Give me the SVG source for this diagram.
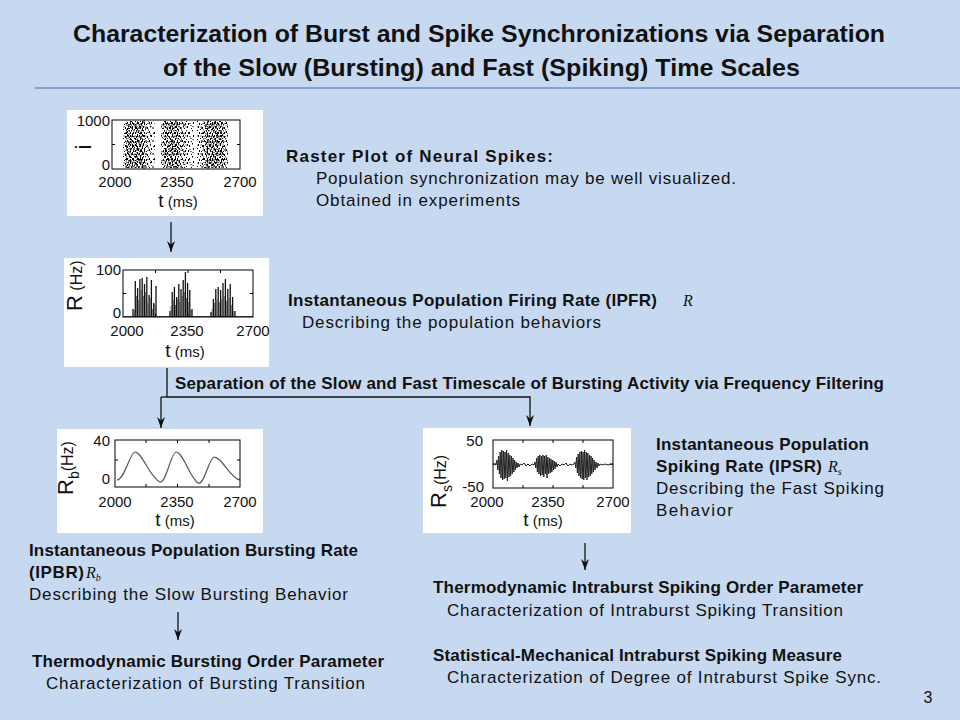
<svg xmlns="http://www.w3.org/2000/svg" width="960" height="720" viewBox="0 0 960 720">
<defs>
<style>
.t{font-family:"Liberation Sans",Arial,sans-serif;fill:#111;}
.b{font-weight:bold;font-size:17px;}
.r{font-size:17px;}
.m{font-family:"Liberation Serif","Times New Roman",serif;font-style:italic;font-size:16px;fill:#111;}
.box{fill:#fff;}
.frame{fill:none;stroke:#000;stroke-width:1;}
.tick{stroke:#000;stroke-width:1;}
.ax{font-family:"Liberation Sans",Arial,sans-serif;font-size:15px;fill:#111;}
.conn{fill:none;stroke:#111;stroke-width:1.3;}
.sp{fill:none;stroke:#111;stroke-width:1.3;}
.sg{fill:none;stroke:#777;stroke-width:1;}
</style>
<marker id="ah" viewBox="0 0 11 8" refX="11" refY="4" markerWidth="11" markerHeight="8" markerUnits="userSpaceOnUse" orient="auto">
<path d="M0,0 L11,4 L0,8 L3.5,4 z" fill="#111"/>
</marker>
<pattern id="rA" width="11" height="9" patternUnits="userSpaceOnUse">
<g fill="#000">
<rect x="0" y="0" width="1" height="2"/><rect x="2" y="3" width="1" height="1"/><rect x="4" y="1" width="1" height="2"/>
<rect x="6" y="5" width="1" height="2"/><rect x="8" y="2" width="1" height="1"/><rect x="9" y="6" width="1" height="2"/>
<rect x="1" y="6" width="1" height="2"/><rect x="3" y="7" width="1" height="1"/><rect x="5" y="3.5" width="1" height="1"/>
<rect x="7" y="0" width="1" height="1.5"/><rect x="10" y="4" width="1" height="1"/><rect x="2.5" y="0.5" width="1" height="1"/>
<rect x="7.5" y="7" width="1" height="1.5"/><rect x="4.5" y="6" width="1" height="1"/><rect x="9.5" y="0.5" width="1" height="1"/>
</g>
</pattern>
<pattern id="rB" width="7" height="13" patternUnits="userSpaceOnUse">
<g fill="#000">
<rect x="0" y="2" width="1" height="2"/><rect x="1.5" y="8" width="1" height="1"/><rect x="3" y="0" width="1" height="1.5"/>
<rect x="4" y="5" width="1" height="2"/><rect x="5.5" y="10" width="1" height="2"/><rect x="2" y="11" width="1" height="1"/>
<rect x="6" y="3" width="1" height="1"/><rect x="0.5" y="6" width="1" height="1"/><rect x="3.5" y="9" width="1" height="1"/>
</g>
</pattern>
<pattern id="rC" width="5" height="6" patternUnits="userSpaceOnUse">
<g fill="#000">
<rect x="0" y="0" width="1" height="2"/><rect x="2" y="2" width="1" height="2"/><rect x="3.5" y="4" width="1" height="1.5"/><rect x="1" y="4.5" width="1" height="1"/>
</g>
</pattern>
</defs>
<rect x="0" y="0" width="960" height="720" fill="#C6D9F1"/>

<g id="title">
<text class="t" x="73" y="42" font-size="24" font-weight="bold" textLength="812" lengthAdjust="spacingAndGlyphs">Characterization of Burst and Spike Synchronizations via Separation</text>
<text class="t" x="163" y="76" font-size="24" font-weight="bold" textLength="637" lengthAdjust="spacingAndGlyphs">of the Slow (Bursting) and Fast (Spiking) Time Scales</text>
<line x1="35" y1="88" x2="960" y2="88" stroke="#6F8FC6" stroke-width="1.5"/>
</g>

<g id="raster-plot">
<rect class="box" x="67" y="110" width="196" height="106"/>
<rect x="123" y="121" width="28" height="47" fill="url(#rA)"/>
<rect x="125" y="121" width="22" height="47" fill="url(#rB)"/>
<rect x="126" y="121" width="17" height="47" fill="url(#rC)"/>
<rect x="151" y="121" width="4" height="47" fill="url(#rB)"/>
<rect x="161" y="121" width="28" height="47" fill="url(#rA)"/>
<rect x="163" y="121" width="22" height="47" fill="url(#rB)"/>
<rect x="164" y="121" width="15" height="47" fill="url(#rC)"/>
<rect x="189" y="121" width="5" height="47" fill="url(#rB)"/>
<rect x="197" y="121" width="31" height="47" fill="url(#rA)"/>
<rect x="201" y="121" width="25" height="47" fill="url(#rB)"/>
<rect x="206" y="121" width="18" height="47" fill="url(#rC)"/>
<rect class="frame" x="112" y="120" width="128" height="49"/>
<path class="tick" d="M144,120 v3 M176,120 v3 M208,120 v3 M144,169 v-3 M176,169 v-3 M208,169 v-3 M112,144.5 h3 M240,144.5 h-3"/>
<text class="ax" x="110" y="126" text-anchor="end">1000</text>
<text class="ax" x="110" y="170" text-anchor="end">0</text>
<text class="ax" x="115" y="187" text-anchor="middle">2000</text>
<text class="ax" x="177" y="187" text-anchor="middle">2350</text>
<text class="ax" x="240" y="187" text-anchor="middle">2700</text>
<text class="t" x="178" y="207" text-anchor="middle"><tspan font-size="19">t</tspan><tspan font-size="15"> (ms)</tspan></text>
<text class="t" transform="translate(91,147) rotate(-90)" text-anchor="middle" font-size="22">i</text>
</g>

<g id="ipfr-plot">
<rect class="box" x="64" y="258" width="205" height="109"/>
<path class="sg" d="M134.2,317V310 M136.5,317V296 M138.8,317V300 M141.1,317V290 M143.4,317V296 M145.7,317V292 M148,317V303 M150.3,317V298 M152.6,317V309 M154.9,317V304 M171.1,317V306 M173.3,317V300 M175.5,317V305 M177.7,317V299 M179.9,317V302 M182.1,317V296 M184.3,317V292 M186.5,317V298 M188.7,317V302 M190.9,317V310 M212.2,317V309 M214.6,317V303 M217,317V300 M219.4,317V302 M221.8,317V299 M224.2,317V296 M226.6,317V301 M229,317V298 M231.4,317V305 M233.8,317V311"/>
<path class="sp" d="M133,317V309 M135.3,317V281 M137.6,317V288 M139.9,317V279 M142.2,317V278 M144.5,317V284 M146.8,317V277 M149.1,317V295 M151.4,317V280 M153.7,317V303 M156,317V286 M170,317V311 M172.2,317V292 M174.4,317V287 M176.6,317V297 M178.8,317V284 M181,317V289 M183.2,317V280 M185.4,317V272 M187.6,317V283 M189.8,317V290 M192,317V309 M211,317V312 M213.4,317V299 M215.8,317V289 M218.2,317V287 M220.6,317V290 M223,317V283 M225.4,317V279 M227.8,317V289 M230.2,317V284 M232.6,317V297 M235,317V311"/>
<path fill="none" stroke="#222" stroke-width="0.8" d="M123,316.5 H253"/>
<rect class="frame" x="123" y="270" width="130" height="47"/>
<path class="tick" d="M155.5,270 v3 M188,270 v3 M220.5,270 v3 M155.5,317 v-3 M188,317 v-3 M220.5,317 v-3 M123,293.5 h3 M253,293.5 h-3"/>
<text class="ax" x="121" y="275" text-anchor="end">100</text>
<text class="ax" x="121" y="318" text-anchor="end">0</text>
<text class="ax" x="127" y="336" text-anchor="middle">2000</text>
<text class="ax" x="187" y="336" text-anchor="middle">2350</text>
<text class="ax" x="253" y="336" text-anchor="middle">2700</text>
<text class="t" x="185" y="357" text-anchor="middle"><tspan font-size="19">t</tspan><tspan font-size="15"> (ms)</tspan></text>
<text class="t" transform="translate(82,311) rotate(-90)"><tspan font-size="22">R</tspan><tspan font-size="16"> (Hz)</tspan></text>
</g>

<g id="ipbr-plot">
<rect class="box" x="57" y="429" width="206" height="104"/>
<path fill="none" stroke="#555" stroke-width="1.2" d="M117,480 C125,479 130,452 135,452 C142,452 150,478 160,482 C166,484 171,452 176,452 C183,452 190,478 198,483 C204,486 209,458 214,457 C222,457 230,478 240,480"/>
<rect class="frame" x="115" y="440" width="125" height="47"/>
<path class="tick" d="M146,440 v3 M177.5,440 v3 M209,440 v3 M146,487 v-3 M177.5,487 v-3 M209,487 v-3 M115,460 h3 M240,460 h-3"/>
<text class="ax" x="110" y="446" text-anchor="end">40</text>
<text class="ax" x="110" y="484" text-anchor="end">0</text>
<text class="ax" x="115" y="507" text-anchor="middle">2000</text>
<text class="ax" x="177" y="507" text-anchor="middle">2350</text>
<text class="ax" x="240" y="507" text-anchor="middle">2700</text>
<text class="t" x="175" y="526" text-anchor="middle"><tspan font-size="19">t</tspan><tspan font-size="15"> (ms)</tspan></text>
<text class="t" transform="translate(73,495) rotate(-90)"><tspan font-size="22">R</tspan><tspan font-size="14" dy="6">b</tspan><tspan font-size="16" dy="-6">(Hz)</tspan></text>
</g>

<g id="ipsr-plot">
<rect class="box" x="423" y="428" width="208" height="105"/>
<path fill="none" stroke="#222" stroke-width="1" stroke-linejoin="bevel" d="M493,465 L494.5,464 L496,465 L497,460 L497.8,470 L498.6,456 L499.4,474 L500.2,452 L501,478 L501.8,450 L502.6,480 L503.4,451 L504.2,479 L505,452 L505.8,478 L506.6,450 L507.4,481 L508.2,453 L509,477 L509.8,455 L510.6,476 L511.4,456 L512.2,474 L513,458 L513.8,472 L514.6,460 L515.4,470 L516.2,462 L517,468 L518,463 L519,467 L520,464 L522,465 L524,463 L526,466 L528,464 L530,466 L532,464 L534,465 L535,462 L535.8,468 L536.6,458 L537.4,472 L538.2,456 L539,474 L539.8,455 L540.6,476 L541.4,456 L542.2,475 L543,455 L543.8,477 L544.6,456 L545.4,474 L546.2,455 L547,478 L547.8,457 L548.6,474 L549.4,458 L550.2,473 L551,459 L551.8,472 L552.6,460 L553.4,470 L554.2,461 L555,469 L556,462 L557,467 L558,464 L560,466 L562,464 L564,465 L566,463 L568,466 L570,464 L572,465 L574,464 L575,462 L575.8,468 L576.6,457 L577.4,473 L578.2,454 L579,476 L579.8,452 L580.6,478 L581.4,451 L582.2,479 L583,452 L583.8,480 L584.6,450 L585.4,478 L586.2,452 L587,480 L587.8,453 L588.6,477 L589.4,455 L590.2,476 L591,456 L591.8,474 L592.6,458 L593.4,472 L594.2,460 L595,470 L596,462 L597,468 L598,463 L599,466 L600,464 L602,465 L605,464 L608,465 L611,464 L613,465"/>
<rect class="frame" x="493" y="440" width="120" height="48"/>
<path class="tick" d="M523,440 v3 M553,440 v3 M583,440 v3 M523,488 v-3 M553,488 v-3 M583,488 v-3 M493,464 h3 M613,464 h-3"/>
<text class="ax" x="483" y="446" text-anchor="end">50</text>
<text class="ax" x="484" y="492" text-anchor="end">-50</text>
<text class="ax" x="487" y="507" text-anchor="middle">2000</text>
<text class="ax" x="548" y="507" text-anchor="middle">2350</text>
<text class="ax" x="613" y="507" text-anchor="middle">2700</text>
<text class="t" x="543" y="526" text-anchor="middle"><tspan font-size="19">t</tspan><tspan font-size="15"> (ms)</tspan></text>
<text class="t" transform="translate(446,508) rotate(-90)"><tspan font-size="22">R</tspan><tspan font-size="14" dy="6">s</tspan><tspan font-size="16" dy="-6">(Hz)</tspan></text>
</g>

<g id="raster-text">
<text class="t b" x="286" y="162" textLength="267" lengthAdjust="spacing">Raster Plot of Neural Spikes:</text>
<text class="t r" x="316" y="184" textLength="420" lengthAdjust="spacing">Population synchronization may be well visualized.</text>
<text class="t r" x="316" y="206" textLength="204" lengthAdjust="spacing">Obtained in experiments</text>
</g>

<g id="ipfr-text">
<text class="t b" x="288" y="306" textLength="369" lengthAdjust="spacing">Instantaneous Population Firing Rate (IPFR)</text>
<text class="m" x="683" y="306">R</text>
<text class="t r" x="302" y="328" textLength="299" lengthAdjust="spacing">Describing the population behaviors</text>
</g>

<g id="separation-text">
<text class="t b" x="175" y="389" textLength="709" lengthAdjust="spacing">Separation of the Slow and Fast Timescale of Bursting Activity via Frequency Filtering</text>
</g>

<g id="ipsr-text">
<text class="t b" x="656" y="450" textLength="213" lengthAdjust="spacing">Instantaneous Population</text>
<text class="t b" x="656" y="472" textLength="166" lengthAdjust="spacing">Spiking Rate (IPSR)</text>
<text class="m" x="828" y="472">R<tspan font-size="10" dy="3">s</tspan></text>
<text class="t r" x="656" y="494" textLength="228" lengthAdjust="spacing">Describing the Fast Spiking</text>
<text class="t r" x="656" y="516" textLength="77" lengthAdjust="spacing">Behavior</text>
</g>

<g id="ipbr-text">
<text class="t b" x="29" y="556" textLength="329" lengthAdjust="spacing">Instantaneous Population Bursting Rate</text>
<text class="t b" x="29" y="578" textLength="55" lengthAdjust="spacing">(IPBR)</text>
<text class="m" x="86" y="578">R<tspan font-size="10" dy="3">b</tspan></text>
<text class="t r" x="29" y="600" textLength="319" lengthAdjust="spacing">Describing the Slow Bursting Behavior</text>
</g>

<g id="bursting-order">
<text class="t b" x="32" y="667" textLength="352" lengthAdjust="spacing">Thermodynamic Bursting Order Parameter</text>
<text class="t r" x="46" y="689" textLength="319" lengthAdjust="spacing">Characterization of Bursting Transition</text>
</g>

<g id="spiking-order">
<text class="t b" x="433" y="593" textLength="430" lengthAdjust="spacing">Thermodynamic Intraburst Spiking Order Parameter</text>
<text class="t r" x="447" y="616" textLength="396" lengthAdjust="spacing">Characterization of Intraburst Spiking Transition</text>
</g>

<g id="spiking-measure">
<text class="t b" x="433" y="661" textLength="409" lengthAdjust="spacing">Statistical-Mechanical Intraburst Spiking Measure</text>
<text class="t r" x="447" y="683" textLength="434" lengthAdjust="spacing">Characterization of Degree of Intraburst Spike Sync.</text>
</g>

<g id="page-number">
<text class="t" x="928" y="703" font-size="16" text-anchor="middle">3</text>
</g>

<g id="connectors">
<path class="conn" d="M171,222 V252" marker-end="url(#ah)"/>
<path class="conn" d="M167,368 V397 H530 V426" marker-end="url(#ah)"/>
<path class="conn" d="M161,397 H167"/>
<path class="conn" d="M161,397 V428" marker-end="url(#ah)"/>
<path class="conn" d="M178,612 V640" marker-end="url(#ah)"/>
<path class="conn" d="M585,543 V570" marker-end="url(#ah)"/>
</g>
</svg>
